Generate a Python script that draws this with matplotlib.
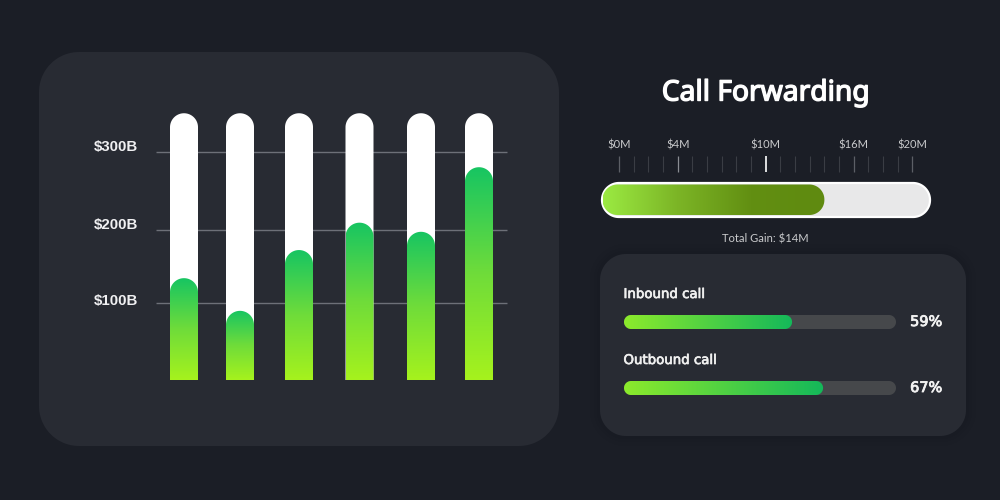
#!/usr/bin/env python
import numpy as np
import matplotlib
matplotlib.use('Agg')
import matplotlib.pyplot as plt
import matplotlib.patheffects as pe
from matplotlib.colors import LinearSegmentedColormap
from matplotlib.patches import PathPatch
from matplotlib.path import Path

# bar chart values, $B
bar_values = [134, 91, 171, 207, 195, 280]
bar_track_top = 351
grid_values = [101, 197, 300]
grid_labels = ['$100B', '$200B', '$300B']

# gauge, $M
gauge_value = 14
gauge_ticks = list(range(0, 21))
gauge_major = [0, 4, 10, 16, 20]
gauge_major_labels = ['$0M', '$4M', '$10M', '$16M', '$20M']
gauge_caption = 'Total Gain: $14M'
title = 'Call Forwarding'

# progress rows
row_names = ['Inbound call', 'Outbound call']
row_fill = [61.8, 73.2]
row_percent = ['59%', '67%']

BG = '#1b1e26'
PANEL = '#282b33'

bar_centers = [184, 240, 299, 359.5, 421, 479]
bar_width = 28
px_per_b = 0.76


def rounded(x0, x1, y0, y1, rx, ry, top_only=False):
    # rounded rectangle as a polygon, rx/ry are the corner radii in data units
    t = np.linspace(0, np.pi / 2, 24)
    pts = []
    pts += [(x1 - rx + rx * np.cos(a), y1 - ry + ry * np.sin(a)) for a in t]
    pts += [(x0 + rx - rx * np.sin(a), y1 - ry + ry * np.cos(a)) for a in t]
    if top_only:
        pts += [(x0, y0), (x1, y0)]
    else:
        pts += [(x0 + rx - rx * np.cos(a), y0 + ry - ry * np.sin(a)) for a in t]
        pts += [(x1 - rx + rx * np.sin(a), y0 + ry - ry * np.cos(a)) for a in t]
    pts.append(pts[0])
    return Path(pts, closed=True)


def gradient(ax, path, extent, colors, vertical=False):
    cmap = LinearSegmentedColormap.from_list('g', colors)
    grad = np.linspace(0, 1, 256)
    grad = grad.reshape(-1, 1) if vertical else grad.reshape(1, -1)
    xlim, ylim = ax.get_xlim(), ax.get_ylim()
    im = ax.imshow(grad, extent=extent, cmap=cmap, aspect='auto',
                   origin='lower', interpolation='bilinear', zorder=3)
    patch = PathPatch(path, transform=ax.transData, fc='none', ec='none')
    ax.add_patch(patch)
    im.set_clip_path(patch)
    ax.set_xlim(xlim)
    ax.set_ylim(ylim)


def px_axes(fig, left, top, right, bottom):
    ax = fig.add_axes([left / 1000, 1 - bottom / 500,
                       (right - left) / 1000, (bottom - top) / 500])
    ax.axis('off')
    return ax


def heavier(txt, width, color):
    # the installed families have no usable bold here, thicken with a stroke
    txt.set_path_effects([pe.withStroke(linewidth=width, foreground=color)])


fig = plt.figure(figsize=(10, 5), dpi=100, facecolor=BG)

# background layer in pixel coordinates, panels and free text
bg = fig.add_axes([0, 0, 1, 1])
bg.set_xlim(0, 1000)
bg.set_ylim(500, 0)
bg.axis('off')

for grow, alpha in [(10, 0.05), (6, 0.07), (3, 0.09)]:
    bg.add_patch(PathPatch(rounded(600 - grow, 966 + grow, 254 - grow, 436 + grow,
                                   26 + grow, 26 + grow),
                           fc='#14161c', ec='none', alpha=alpha))
bg.add_patch(PathPatch(rounded(39, 559, 52, 446, 40, 40), fc=PANEL, ec='none'))
bg.add_patch(PathPatch(rounded(600, 966, 254, 436, 26, 26), fc=PANEL, ec='none'))

t = bg.text(765.5, 93, title, color='white', fontsize=20.3,
            family='Noto Sans', ha='center', va='center')
heavier(t, 1.0, 'white')
bg.text(765.5, 239.5, gauge_caption, color='#c9cacc', fontsize=8.1, family='Lato',
        ha='center', va='center')

# bar chart
chart = px_axes(fig, 150, 100, 510, 390)
chart.set_xlim(150, 510)
chart.set_ylim(-10 / px_per_b, 280 / px_per_b)
chart.hlines(grid_values, 156, 507, color='#6d7078', lw=1, zorder=1)
label_nudge = [2, 5, 5]
for val, lab, nudge in zip(grid_values, grid_labels, label_nudge):
    chart.text(138, val + nudge / px_per_b, lab, color='#f0f0f2', fontsize=10.8,
               fontweight='bold', family='Liberation Sans', ha='right', va='center')

ry = (bar_width / 2) / px_per_b
for cx, val in zip(bar_centers, bar_values):
    x0, x1 = cx - bar_width / 2, cx + bar_width / 2
    chart.add_patch(PathPatch(rounded(x0, x1, 0, bar_track_top, bar_width / 2, ry, True),
                              fc='white', ec='none', zorder=2))
    gradient(chart, rounded(x0, x1, 0, val, bar_width / 2, ry, True),
             (x0, x1, 0, val), ['#a6f21d', '#6fdc3a', '#17c562'], vertical=True)

# gauge, x axis in $M
gauge = px_axes(fig, 600, 130, 932, 220)
m_per_px = 1 / 14.67
gauge.set_xlim(-19 * m_per_px, 313 * m_per_px)
gauge.set_ylim(220, 130)
for tick in gauge_ticks:
    color, lw = '#3a3d44', 0.8
    if tick in gauge_major:
        color, lw = '#5c5f66', 0.9
    if tick == 4:
        color = '#8a8d93'
    if tick == 10:
        color, lw = 'white', 1.2
    gauge.vlines(tick, 156, 172, color=color, lw=lw)
for tick, lab in zip(gauge_major, gauge_major_labels):
    gauge.text(tick, 145, lab, color='#c9cacc', fontsize=8, family='Lato',
               ha='center', va='center')

g0, g1 = -17 * m_per_px, 311 * m_per_px
gauge.add_patch(PathPatch(rounded(g0, g1, 183, 217, 17 * m_per_px, 17),
                          fc='#e8e8e9', ec='white', lw=1.6, zorder=2))
gf0 = -16.5 * m_per_px
gradient(gauge, rounded(gf0, gauge_value, 184.5, 215, 15 * m_per_px, 15),
         (gf0, gauge_value, 184.5, 215), ['#9bea42', '#7cb526', '#628f12', '#5f8a10'])

# progress rows, x axis in percent
row_tops = [315, 381]
for name, fill, pct, top in zip(row_names, row_fill, row_percent, row_tops):
    row = px_axes(fig, 624, top, 896, top + 14)
    row.set_xlim(0, 100)
    row.set_ylim(0, 1)
    rx = 7 * 100 / 272
    row.add_patch(PathPatch(rounded(0, 100, 0, 1, rx, 0.5), fc='#46484b', ec='none', zorder=2))
    gradient(row, rounded(0, fill, 0, 1, rx, 0.5), (0, fill, 0, 1), ['#8cea2c', '#14b85a'])
    label = bg.text(623.5, top - 20.5, name, color='#f0f0f0', fontsize=9.6,
                    family='DejaVu Sans', ha='left', va='center')
    heavier(label, 0.5, '#f0f0f0')
    value = bg.text(942, top + 7, pct, color='#f2f2f2', fontsize=10.4,
                    family='DejaVu Sans', ha='right', va='center')
    heavier(value, 0.6, '#f2f2f2')

fig.savefig('out.png', dpi=100, facecolor=BG)
